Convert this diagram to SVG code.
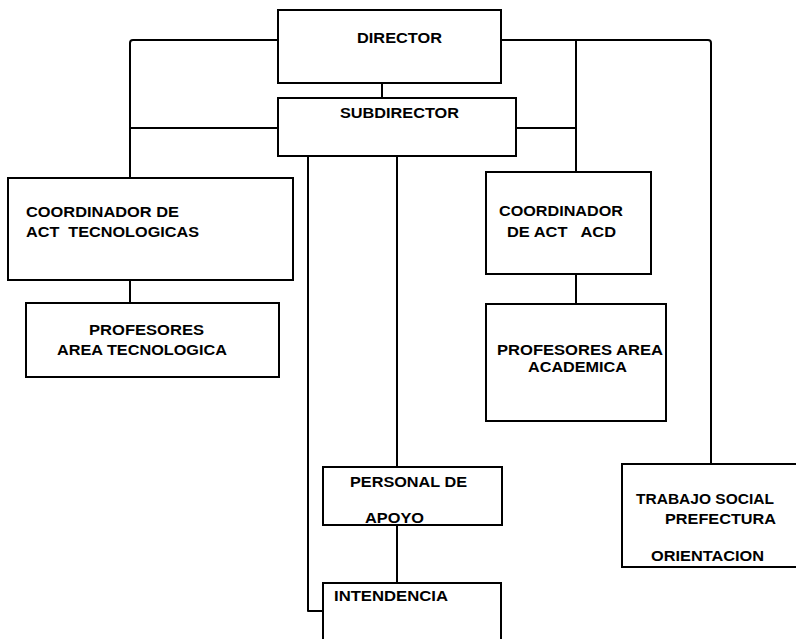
<svg xmlns="http://www.w3.org/2000/svg" width="796" height="639" viewBox="0 0 796 639">
<style>
.box{fill:#fff;stroke:#000;stroke-width:2}
.ln{fill:none;stroke:#000;stroke-width:2;stroke-linejoin:round}
text{font-family:"Liberation Sans",Arial,sans-serif;font-weight:bold;font-size:14.5px;fill:#000}
</style>
<rect width="796" height="639" fill="#fff"/>
<g id="connectors">
<path class="ln" d="M278,40 H133 Q130,40 130,43 V178"/>
<path class="ln" d="M278,128 H130"/>
<path class="ln" d="M382,83 V98"/>
<path class="ln" d="M501,40 H708 Q711,40 711,43 V464"/>
<path class="ln" d="M576,40 V172"/>
<path class="ln" d="M516,128 H576"/>
<path class="ln" d="M130,280 V303"/>
<path class="ln" d="M576,274 V304"/>
<path class="ln" d="M308,156 V611 H323"/>
<path class="ln" d="M397,156 V467"/>
<path class="ln" d="M397,525 V583"/>
</g>
<g id="director">
<rect class="box" x="278" y="10" width="223" height="73"/>
<text x="357" y="43" textLength="85" lengthAdjust="spacingAndGlyphs">DIRECTOR</text>
</g>
<g id="subdirector">
<rect class="box" x="278" y="98" width="238" height="58"/>
<text x="340" y="118" textLength="119" lengthAdjust="spacingAndGlyphs">SUBDIRECTOR</text>
</g>
<g id="coord-tec">
<rect class="box" x="8" y="178" width="285" height="102"/>
<text x="26" y="217" textLength="153" lengthAdjust="spacingAndGlyphs">COORDINADOR DE</text>
<text x="26" y="237" textLength="173" lengthAdjust="spacingAndGlyphs" xml:space="preserve">ACT  TECNOLOGICAS</text>
</g>
<g id="prof-tec">
<rect class="box" x="26" y="303" width="253" height="74"/>
<text x="89" y="335" textLength="115" lengthAdjust="spacingAndGlyphs">PROFESORES</text>
<text x="57" y="355" textLength="170" lengthAdjust="spacingAndGlyphs">AREA TECNOLOGICA</text>
</g>
<g id="coord-acd">
<rect class="box" x="486" y="172" width="165" height="102"/>
<text x="499" y="216" textLength="124" lengthAdjust="spacingAndGlyphs">COORDINADOR</text>
<text x="507" y="237" textLength="109" lengthAdjust="spacingAndGlyphs" xml:space="preserve">DE ACT   ACD</text>
</g>
<g id="prof-acd">
<rect class="box" x="486" y="304" width="180" height="117"/>
<text x="497" y="355" textLength="166" lengthAdjust="spacingAndGlyphs">PROFESORES AREA</text>
<text x="528" y="372" textLength="99" lengthAdjust="spacingAndGlyphs">ACADEMICA</text>
</g>
<g id="personal-apoyo">
<rect class="box" x="323" y="467" width="179" height="58"/>
<text x="350" y="487" textLength="117" lengthAdjust="spacingAndGlyphs">PERSONAL DE</text>
<text x="365" y="523" textLength="59" lengthAdjust="spacingAndGlyphs">APOYO</text>
</g>
<g id="intendencia">
<rect class="box" x="323" y="583" width="178" height="70"/>
<text x="334" y="601" textLength="114" lengthAdjust="spacingAndGlyphs">INTENDENCIA</text>
</g>
<g id="trabajo-social">
<rect class="box" x="622" y="464" width="180" height="103"/>
<text x="636" y="504" textLength="138" lengthAdjust="spacingAndGlyphs">TRABAJO SOCIAL</text>
<text x="665" y="524" textLength="111" lengthAdjust="spacingAndGlyphs">PREFECTURA</text>
<text x="651" y="561" textLength="113" lengthAdjust="spacingAndGlyphs">ORIENTACION</text>
</g>
</svg>
